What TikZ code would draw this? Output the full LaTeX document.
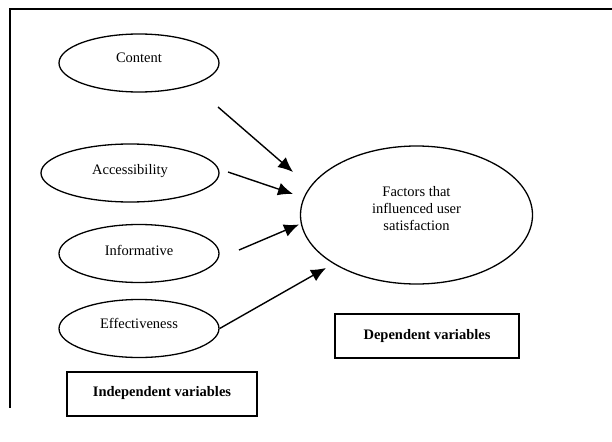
\documentclass[tikz,border=0pt]{standalone}
\usepackage{fontspec}
\setmainfont{Liberation Serif}
\usetikzlibrary{shapes.geometric,arrows.meta}
\begin{document}
\begin{tikzpicture}[x=1pt,y=-1pt,
  ell/.style={ellipse,draw,line width=1.3pt,minimum width=160pt,minimum height=58pt,inner sep=0pt,font=\fontsize{14.5}{17}\selectfont},
  bigell/.style={ellipse,draw,line width=1.3pt,minimum width=232pt,minimum height=138pt,inner sep=0pt,font=\fontsize{14.5}{17}\selectfont},
  varbox/.style={rectangle,draw,line width=1.3pt,minimum height=44pt,inner sep=0pt,font=\fontsize{14.5}{17}\selectfont\bfseries},
  conn/.style={line width=1.4pt,-{Latex[length=15pt,width=13pt]}},
  frame/.style={line width=1.3pt}]
\useasboundingbox (0,0) rectangle (612,441);
% frame
\coordinate (ftr) at (612,9);
\coordinate (ftl) at (10,9);
\coordinate (fbl) at (10,408);
\draw[frame] (ftr) -- (ftl) -- (fbl);
% independent variables
\node[ell] (content) at (139,63) {\raisebox{10pt}{Content}};
\node[ell,minimum width=178pt] (access) at (130,173) {\raisebox{8pt}{Accessibility}};
\node[ell] (inform) at (139,253.5) {\raisebox{7pt}{Informative}};
\node[ell] (effect) at (139,328.5) {\raisebox{10pt}{Effectiveness}};
% dependent
\node[bigell] (dv) at (416.5,215) {\raisebox{32pt}{\begin{tabular}{@{}c@{}}Factors that\\influenced user\\satisfaction\end{tabular}}};
% boxes
\node[varbox,minimum width=190pt] (indep) at (162,394) {\raisebox{5pt}{Independent variables}};
\node[varbox,minimum width=184pt] (dep) at (427,336) {\raisebox{4pt}{Dependent variables}};
% connector ends
\coordinate (a1s) at (218,107);
\coordinate (a1e) at (293,172);
\coordinate (a2s) at (228,172);
\coordinate (a2e) at (293,194);
\coordinate (a3s) at (239,250);
\coordinate (a3e) at (299,224.5);
\coordinate (a4e) at (326,268);
\draw[conn] (a1s) -- (a1e);
\draw[conn] (a2s) -- (a2e);
\draw[conn] (a3s) -- (a3e);
\draw[conn] (effect.east) -- (a4e);
\end{tikzpicture}
\end{document}
